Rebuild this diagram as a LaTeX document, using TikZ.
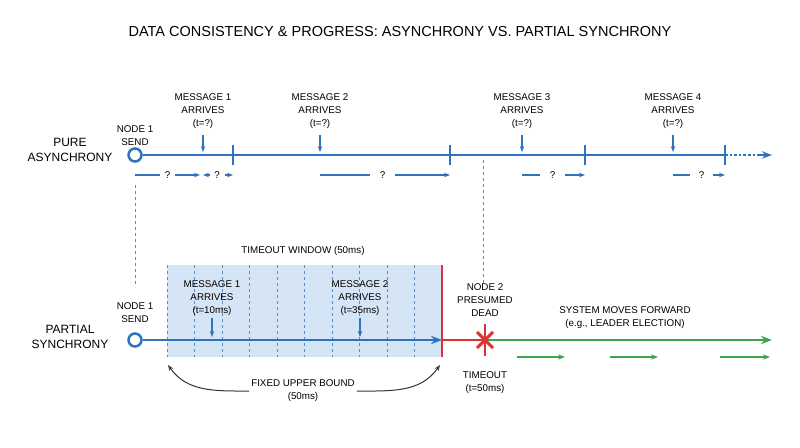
\documentclass[tikz,border=0pt]{standalone}
\usepackage{fontspec}
\setmainfont{Liberation Sans}
\usetikzlibrary{arrows.meta}
\definecolor{tblue}{RGB}{45,115,190}
\definecolor{tred}{RGB}{220,50,50}
\definecolor{tgreen}{RGB}{60,165,80}
\definecolor{tshade}{RGB}{214,229,245}
\tikzset{
  lbl/.style={font=\fontsize{9.8}{13}\selectfont, align=center},
  tick/.style={tblue, line width=2.2pt},
  gap/.style={tblue, line width=1.3pt, -{Stealth[length=6pt]}},
  guide/.style={gray, dashed, line width=0.8pt}
}
\begin{document}
\begin{tikzpicture}[x=1pt,y=-1pt]
	 \useasboundingbox (0,0) rectangle (800,447);
	 \node[font=\fontsize{14.5}{17}\selectfont] (title) at (400,32) {DATA CONSISTENCY \& PROGRESS: ASYNCHRONY VS. PARTIAL SYNCHRONY};
	 % pure asynchrony
	 \node[lbl, font=\fontsize{12}{15}\selectfont] (pure) at (70,150) {PURE\\ASYNCHRONY};
	 \node[circle, draw=tblue, line width=2.5pt, minimum size=13pt, inner sep=0pt] (s1) at (135,155) {};
	 \coordinate (e1) at (725,155);
	 \coordinate (f1) at (772,155);
	 \draw[tblue, line width=2.6pt] (s1) -- (e1);
	 \draw[tblue, line width=2.6pt, dotted] (e1) -- (758,155);
	 \draw[tblue, line width=1.6pt, -{Stealth[length=10pt]}] (758,155) -- (f1);
	 \foreach \x in {233,450,585,725} \draw[tick] (\x,145) -- (\x,165);
	 \node[lbl] (n1a) at (135,136) {NODE 1\\SEND};
	 \foreach \x/\k in {203/1,320/2,522/3,673/4} {
	   \node[lbl] (m\k) at (\x,111) {MESSAGE \k\\ARRIVES\\(t=?)};
	   \draw[tblue, line width=1.6pt, -{Stealth[length=6pt]}] (\x,135) -- (\x,152);
	 }
	 \foreach \a/\b/\c/\d in {135/160/175/200, 320/370/395/450, 522/540/565/585, 673/690/713/725} {
	   \draw[tblue, line width=1.3pt] (\a,175) -- (\b,175);
	   \node[lbl] at ({(\b+\c)/2},175) {?};
	   \draw[gap] (\c,175) -- (\d,175);
	 }
	 \draw[gap] (210,175) -- (203,175);
	 \node[lbl] at (217,175) {?};
	 \draw[gap] (225,175) -- (233,175);
	 \draw[guide] (135,185) -- (135,287);
	 \draw[guide] (483,160) -- (483,283);
	 % partial synchrony
	 \node[lbl, font=\fontsize{12}{15}\selectfont] (part) at (70,337) {PARTIAL\\SYNCHRONY};
	 \fill[tshade] (167,265) rectangle (442,357);
	 \foreach \x in {167,194.5,222,249.5,277,304.5,332,359.5,387,414.5} \draw[tblue!80, dashed, line width=0.6pt] (\x,265) -- (\x,357);
	 \node[lbl] (win) at (303,251) {TIMEOUT WINDOW (50ms)};
	 \node[circle, draw=tblue, line width=2.5pt, minimum size=13pt, inner sep=0pt] (s2) at (135,340) {};
	 \coordinate (t2) at (442,340);
	 \draw[tblue, line width=2.6pt, -{Stealth[length=11pt]}] (s2) -- (t2);
	 \draw[tred, line width=2.8pt] (442,265) -- (442,357);
	 \coordinate (x2) at (485,340);
	 \draw[tred, line width=2.4pt] (t2) -- (x2);
	 \draw[tgreen, line width=2.6pt, -{Stealth[length=11pt]}] (x2) -- (772,340);
	 \draw[tred, line width=1.4pt] (485,324) -- (485,356);
	 \draw[tred, line width=3pt] (477,332) -- (493,348) (477,348) -- (493,332);
	 \foreach \a/\b in {517/565, 610/658, 720/770} \draw[tgreen, line width=1.5pt, -{Stealth[length=7pt]}] (\a,357) -- (\b,357);
	 \node[lbl] (n1b) at (135,313) {NODE 1\\SEND};
	 \node[lbl] (m5) at (212,298) {MESSAGE 1\\ARRIVES\\(t=10ms)};
	 \draw[tblue, line width=1.6pt, -{Stealth[length=6pt]}] (212,318) -- (212,337);
	 \node[lbl] (m6) at (360,298) {MESSAGE 2\\ARRIVES\\(t=35ms)};
	 \draw[tblue, line width=1.6pt, -{Stealth[length=6pt]}] (360,318) -- (360,337);
	 \node[lbl] (dead) at (485,300) {NODE 2\\PRESUMED\\DEAD};
	 \node[lbl] (tout) at (485,383) {TIMEOUT\\(t=50ms)};
	 \node[lbl] (fwd) at (625,318) {SYSTEM MOVES FORWARD\\(e.g., LEADER ELECTION)};
	 \node[lbl, fill=white, inner sep=2pt] (bound) at (303,391) {FIXED UPPER BOUND\\(50ms)};
	 \coordinate (ba) at (440,365);
	 \coordinate (bb) at (168,365);
	 \draw[black!80, line width=1pt, -{Stealth[length=6pt]}] (bound.east) to[out=0, in=-125] (ba);
	 \draw[black!80, line width=1pt, -{Stealth[length=6pt]}] (bound.west) to[out=180, in=-55] (bb);
\end{tikzpicture}
\end{document}
